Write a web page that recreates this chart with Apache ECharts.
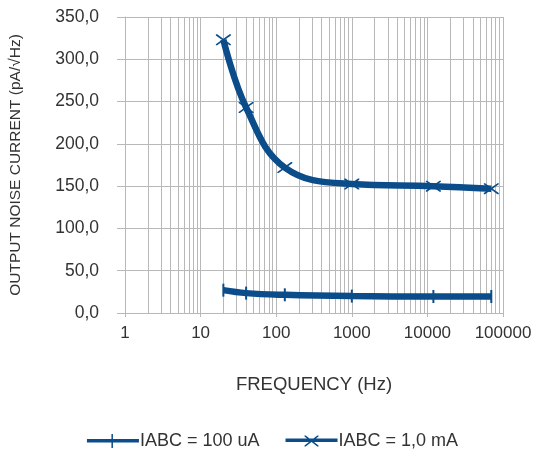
<!DOCTYPE html>
<html>
<head>
<meta charset="utf-8">
<script src="https://cdn.jsdelivr.net/npm/echarts@6/dist/echarts.min.js"></script>
<style>html,body{margin:0;padding:0;background:#fff;}#c{width:545px;height:450px;}</style>
</head>
<body>
<div id="c"></div>
<script>
const frequencies = [20, 40, 130, 1000, 12000, 70000];
const iabc100uA = [27, 23.5, 21.5, 20, 19.5, 19.5];
const iabc1mA = [323, 243, 172, 152.5, 150, 147];
const seriesNames = ['IABC = 100 uA', 'IABC = 1,0 mA'];
const decades = [1, 10, 100, 1000, 10000];

const minorLines = [];
decades.forEach(d => { for (let k = 2; k <= 9; k++) minorLines.push({ xAxis: d * k }); });

const color = '#0b4d8a';
const grid = '#b8b8b8';
const font = 'Liberation Sans';
const tickSym = 'path://M0,0L1,0L1,10L0,10Z';
const crossSym = 'path://M0,0L1.2,0L14,9L14,10L12.8,10L0,1Z M14,0L14,1L1.2,10L0,10L0,9L12.8,0Z';
const iconTick = 'path://M0,5L24.5,5L24.5,0L26,0L26,5L52,5L52,8.5L26,8.5L26,14L24.5,14L24.5,8.5L0,8.5Z';
const iconCross = 'path://M0,5L52,5L52,8.5L0,8.5Z M19,2L20.2,2L33,12L33,13L31.8,13L19,3Z M33,2L33,3L20.2,13L19,13L19,12L31.8,2Z';

const chart = echarts.init(document.getElementById('c'));
chart.setOption({
  animation: false,
  backgroundColor: '#fff',
  grid: { left: 123, right: 42, top: 17, bottom: 137 },
  legend: {
    top: 427, left: 'center',
    itemWidth: 52, itemHeight: 14, itemGap: 26,
    textStyle: { fontFamily: font, fontSize: 18, color: '#333', padding: [0, 0, 0, -4] },
    data: [
      { name: seriesNames[0], icon: iconTick },
      { name: seriesNames[1], icon: iconCross }
    ]
  },
  xAxis: {
    type: 'log', logBase: 10, min: 1, max: 100000,
    name: 'FREQUENCY (Hz)', nameLocation: 'middle', nameGap: 62,
    nameTextStyle: { fontFamily: font, fontSize: 18.5, color: '#333' },
    axisLine: { show: true, lineStyle: { color: grid } },
    axisTick: { show: true, length: 4, lineStyle: { color: grid } },
    axisLabel: { fontFamily: font, fontSize: 17, color: '#333', margin: 12,
      formatter: v => String(Math.round(v)) },
    splitLine: { show: true, lineStyle: { color: grid, width: 1 } }
  },
  yAxis: {
    type: 'value', min: 0, max: 350, interval: 50,
    name: 'OUTPUT NOISE CURRENT (pA/√Hz)', nameLocation: 'middle', nameGap: 101,
    nameTextStyle: { fontFamily: font, fontSize: 15.5, color: '#333' },
    axisLine: { show: true, lineStyle: { color: grid } },
    axisTick: { show: true, length: 8, lineStyle: { color: grid } },
    axisLabel: { fontFamily: font, fontSize: 17.5, color: '#333', margin: 26,
      formatter: v => v.toFixed(1).replace('.', ',') },
    splitLine: { show: true, lineStyle: { color: grid, width: 1 } }
  },
  series: [
    {
      name: 'grid-minor', type: 'line', data: [], silent: true,
      markLine: { silent: true, symbol: 'none', z: 1, animation: false,
        label: { show: false }, lineStyle: { color: grid, width: 1, type: 'solid' },
        emphasis: { disabled: true }, data: minorLines }
    },
    {
      name: seriesNames[0], type: 'line', smooth: 0.4, z: 3,
      data: frequencies.map((f, i) => [f, iabc100uA[i]]),
      lineStyle: { color: color, width: 6.5 }, itemStyle: { color: color },
      symbol: tickSym, symbolSize: [2, 13]
    },
    {
      name: seriesNames[1], type: 'line', smooth: 0.4, z: 3,
      data: frequencies.map((f, i) => [f, iabc1mA[i]]),
      lineStyle: { color: color, width: 6.5 }, itemStyle: { color: color },
      symbol: crossSym, symbolSize: [15, 11]
    }
  ]
});
</script>
</body>
</html>
